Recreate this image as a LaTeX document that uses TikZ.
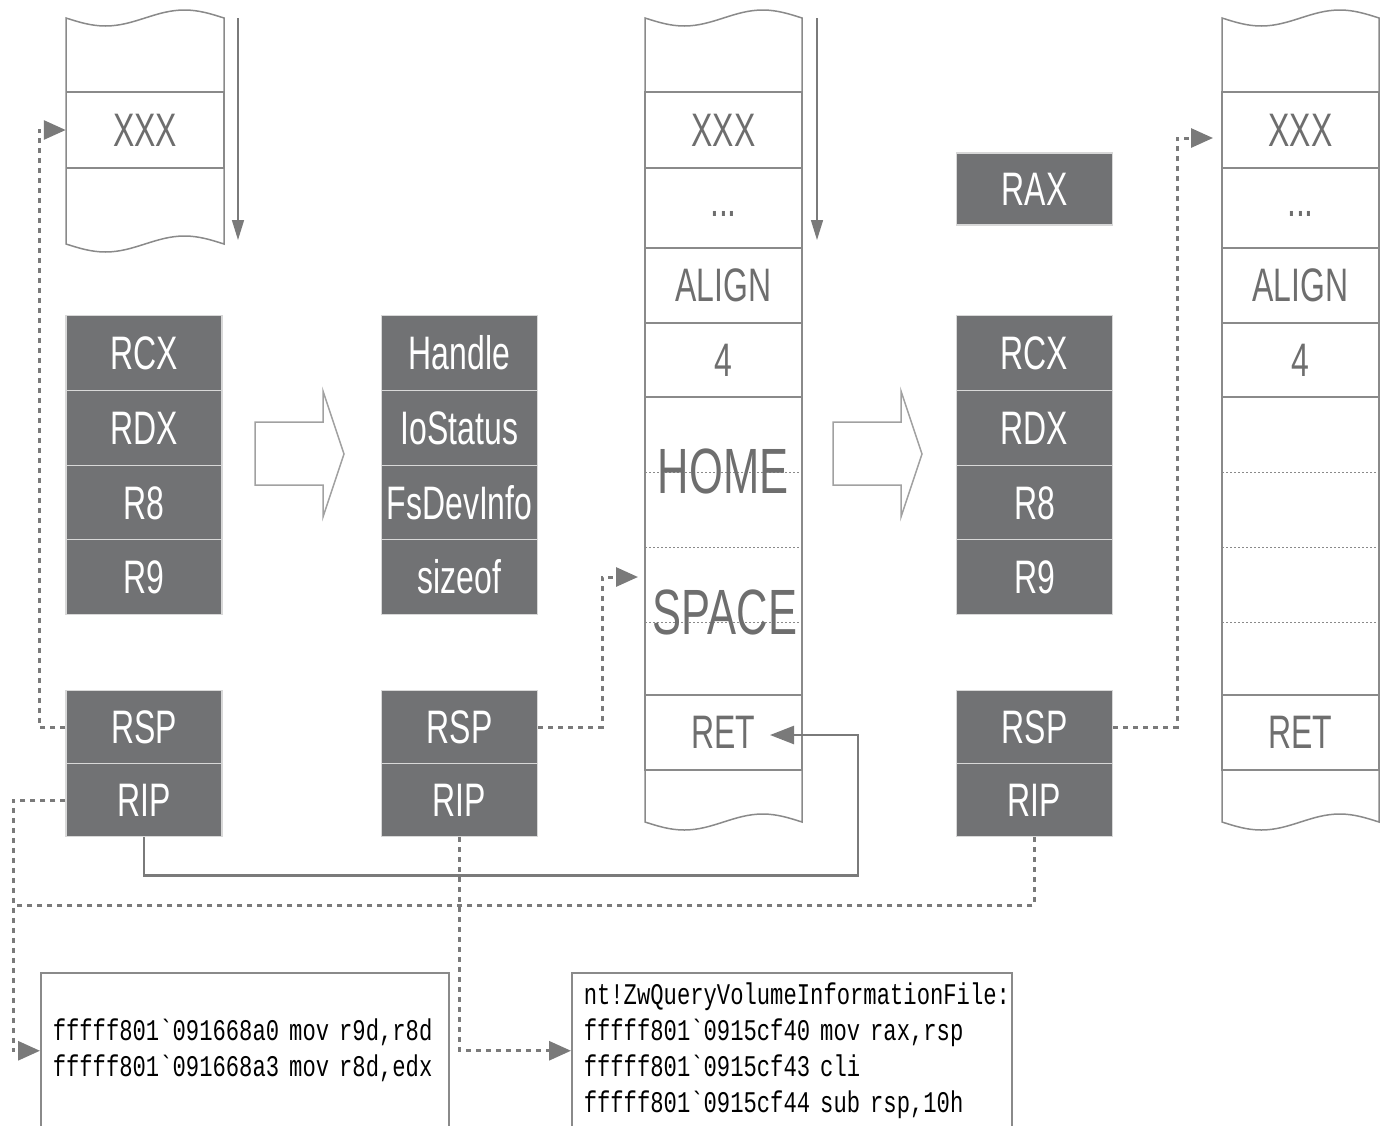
\documentclass[tikz,border=0pt]{standalone}
\usepackage{fontspec}
\setmainfont{Liberation Sans}[FakeStretch=0.68]
\newfontfamily\codefont{Liberation Mono}[FakeStretch=0.74,Ligatures=TeXOff]
\usetikzlibrary{arrows.meta}
\definecolor{regfill}{HTML}{717274}
\definecolor{regedge}{HTML}{D8D8D8}
\definecolor{stkline}{HTML}{8A8A8A}
\definecolor{stktext}{HTML}{6E6E6E}
\definecolor{linkgray}{HTML}{7A7A7A}
\newcommand{\regsize}{\fontsize{47}{47}\selectfont}
\newcommand{\hugesize}{\fontsize{64}{64}\selectfont}
\begin{document}
\begin{tikzpicture}[x=1pt,y=-1pt,
  reg/.style={draw=regedge,line width=1.5pt,fill=regfill,text=white,font=\regsize,
    minimum width=156pt,minimum height=75pt,inner sep=0pt},
  cell/.style={draw=stkline,line width=1.5pt,text=stktext,font=\regsize,
    minimum width=157pt,inner sep=0pt},
  lbl/.style={text=stktext,inner sep=0pt},
  side/.style={stkline,line width=1.5pt},
  sepline/.style={stkline,line width=1pt,dash pattern=on 2pt off 2pt},
  code/.style={draw=stkline,line width=1.5pt,font=\codefont\fontsize{30}{36}\selectfont,
    align=left,inner xsep=12pt,inner ysep=0pt,minimum height=156pt,anchor=north west},
  dline/.style={linkgray,line width=3pt,dash pattern=on 5pt off 5pt},
  link/.style={dline,-{Triangle[length=22pt,width=19pt]}},
  ret/.style={linkgray,line width=2.5pt,-{Triangle[length=24pt,width=18pt]}},
  growarr/.style={linkgray,line width=1.5pt,-{Triangle[length=20pt,width=12pt]}},
  blk/.style={draw=stkline!80,line width=1.5pt,fill=white}]
  \useasboundingbox (0,0) rectangle (1380,1125);

  \draw[side] (66,18) sin (105.5,26) cos (145,18) sin (184.5,10) cos (224,18) -- (224,244)
    sin (184.5,236) cos (145,244) sin (105.5,252) cos (66,244) -- cycle;
  \node[cell,minimum height=76pt] (xxxA) at (145,130) {XXX};
  \coordinate (gA1) at (238,18);
  \coordinate (gA2) at (238,240);
  \draw[growarr] (gA1) -- (gA2);

  \draw[side] (645,18) sin (684.25,26) cos (723.5,18) sin (762.75,10) cos (802,18) -- (802,822)
    sin (762.75,814) cos (723.5,822) sin (684.25,830) cos (645,822) -- cycle;
  \node[cell,minimum height=76pt] (xxx2) at (723.5,130) {XXX};
  \node[cell,minimum height=80pt] (dots2) at (723.5,208) {\raisebox{-16pt}{...}};
  \node[cell,minimum height=75pt] (align2) at (723.5,285.5) {ALIGN};
  \node[cell,minimum height=74pt] (four2) at (723.5,360) {4};
  \node[cell,minimum height=298pt] (hs2) at (723.5,546) {};
  \node[cell,minimum height=75pt] (ret2) at (723.5,732.5) {RET};
  \draw[sepline] (645,472) -- (802,472);
  \draw[sepline] (645,547) -- (802,547);
  \draw[sepline] (645,622) -- (802,622);
  \node[lbl,font=\hugesize] (home2) at (723,471) {HOME};
  \node[lbl,font=\hugesize] (space2) at (725,612) {SPACE};
  \coordinate (g21) at (817,18);
  \coordinate (g22) at (817,240);
  \draw[growarr] (g21) -- (g22);

  \draw[side] (1222,18) sin (1261.25,26) cos (1300.5,18) sin (1339.75,10) cos (1379,18) -- (1379,822)
    sin (1339.75,814) cos (1300.5,822) sin (1261.25,830) cos (1222,822) -- cycle;
  \node[cell,minimum height=76pt] (xxx3) at (1300.5,130) {XXX};
  \node[cell,minimum height=80pt] (dots3) at (1300.5,208) {\raisebox{-16pt}{...}};
  \node[cell,minimum height=75pt] (align3) at (1300.5,285.5) {ALIGN};
  \node[cell,minimum height=74pt] (four3) at (1300.5,360) {4};
  \node[cell,minimum height=298pt] (blank3) at (1300.5,546) {};
  \node[cell,minimum height=75pt] (ret3) at (1300.5,732.5) {RET};
  \draw[sepline] (1222,472) -- (1379,472);
  \draw[sepline] (1222,547) -- (1379,547);
  \draw[sepline] (1222,622) -- (1379,622);

  \node[reg] (rcx1) at (144,353) {RCX};
  \node[reg] (rdx1) at (144,428) {RDX};
  \node[reg] (r81) at (144,503) {R8};
  \node[reg] (r91) at (144,577) {R9};
  \node[reg,minimum height=73pt] (rsp1) at (144,727) {RSP};
  \node[reg,minimum height=73pt] (rip1) at (144,800) {RIP};

  \node[reg] (hdl2) at (459.5,353) {Handle};
  \node[reg] (ios2) at (459.5,428) {IoStatus};
  \node[reg] (fsd2) at (459.5,503) {FsDevInfo};
  \node[reg] (szf2) at (459.5,577) {sizeof};
  \node[reg,minimum height=73pt] (rsp2) at (459.5,727) {RSP};
  \node[reg,minimum height=73pt] (rip2) at (459.5,800) {RIP};

  \node[reg,minimum height=72pt] (rax3) at (1034.5,189) {RAX};
  \node[reg] (rcx3) at (1034.5,353) {RCX};
  \node[reg] (rdx3) at (1034.5,428) {RDX};
  \node[reg] (r83) at (1034.5,503) {R8};
  \node[reg] (r93) at (1034.5,577) {R9};
  \node[reg,minimum height=73pt] (rsp3) at (1034.5,727) {RSP};
  \node[reg,minimum height=73pt] (rip3) at (1034.5,800) {RIP};

  \draw[blk] (255,422) -- (323,422) -- (323,391) -- (344,454) -- (323,517) -- (323,485) -- (255,485) -- cycle;
  \draw[blk] (833,422) -- (901,422) -- (901,391) -- (922,454) -- (901,517) -- (901,485) -- (833,485) -- cycle;

  \node[code,text width=384pt] (code1) at (40,972)
    {fffff801`091668a0 mov r9d,r8d\\fffff801`091668a3 mov r8d,edx};
  \node[code,text width=416pt] (code2) at (571,972)
    {nt!ZwQueryVolumeInformationFile:\\fffff801`0915cf40 mov rax,rsp\\
     fffff801`0915cf43 cli\\fffff801`0915cf44 sub rsp,10h};

  \coordinate (hsin) at (638,577);
  \coordinate (xxx3in) at (1213,138);
  \coordinate (join) at (14,905);
  \coordinate (retin) at (770,735);
  \coordinate (retbend) at (858,735);
  \draw[link] (rsp1.west) -- ++(-26,0) |- (xxxA.west);
  \draw[link] (rip1.west) -- ++(-52,0) |- (code1.west);
  \draw[link] (rsp2.east) -- ++(64,0) |- (hsin);
  \draw[link] (rip2.south) |- (code2.west);
  \draw[link] (rsp3.east) -- ++(64,0) |- (xxx3in);
  \draw[dline] (rip3.south) |- (join);
  \draw[ret] (rip1.south) -- ++(0,38) -| (retbend) -- (retin);
\end{tikzpicture}
\end{document}
